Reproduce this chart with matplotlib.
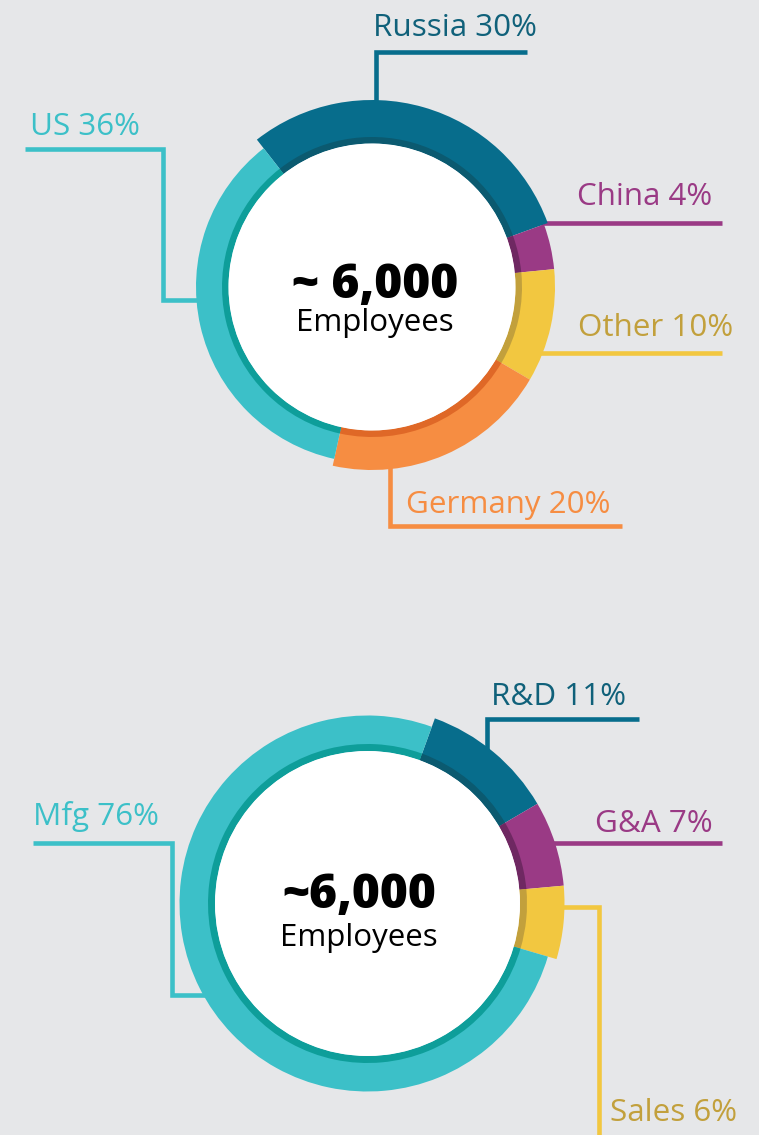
import matplotlib.pyplot as plt

W, H = 759, 1135

# headcount split by region and by function (percent)
region_names = ["Russia", "China", "Other", "Germany", "US"]
region_share = [30, 4, 10, 20, 36]
dept_names = ["R&D", "G&A", "Sales", "Mfg"]
dept_share = [11, 7, 6, 76]
total_label = "6,000"

BG = "#e6e7e9"
TEAL, TEAL_D = "#3cc0c8", "#0e9e9a"
BLUE, BLUE_D = "#076d8c", "#0b5a70"
PLUM, PLUM_D = "#9a3a85", "#6f2862"
GOLD, GOLD_D = "#f2c740", "#c2a03c"
ORNG, ORNG_D = "#f68d42", "#df6827"

plt.rcParams['font.family'] = ['Open Sans', 'DejaVu Sans']

fig = plt.figure(figsize=(W / 100, H / 100), dpi=100, facecolor=BG)
ax = fig.add_axes([0, 0, 1, 1])
ax.set_facecolor(BG)


def py(y):
    # work in top-down pixel rows
    return H - y


def ring(cx, cy, shares, colors, darks, r_white, band, r_outer, start):
    c = (cx, py(cy))
    wedges, _ = ax.pie(shares, colors=colors, startangle=start,
                       counterclock=False, center=c, radius=max(r_outer),
                       wedgeprops=dict(width=10, linewidth=0), frame=True)
    for w, r in zip(wedges, r_outer):
        w.set_radius(r)
        w.set_width(r - r_white)
        w.set_zorder(3)
    inner, _ = ax.pie(shares, colors=darks, startangle=start,
                      counterclock=False, center=c, radius=r_white + band,
                      wedgeprops=dict(width=band, linewidth=0), frame=True)
    for w in inner:
        w.set_zorder(4)
    ax.add_patch(plt.Circle(c, r_white, color="white", zorder=5, lw=0))


def leader(xs, ys, color):
    ax.plot(xs, [py(y) for y in ys], color=color, lw=3.3,
            solid_joinstyle="miter", solid_capstyle="butt", zorder=2)


def label(x, y, s, color):
    ax.text(x, py(y), s, color=color, fontsize=22.6, ha="left",
            va="baseline", zorder=6)


# ---- region donut ----
ring(372, 287, region_share,
     [BLUE, PLUM, GOLD, ORNG, TEAL], [BLUE_D, PLUM_D, GOLD_D, ORNG_D, TEAL_D],
     143.5, 6.5, [187, 183, 183, 183, 176], 128)

leader([376, 376, 527], [110, 52, 52], BLUE)
leader([200, 163, 163, 25], [300, 300, 149, 149], TEAL)
leader([540, 722], [223, 223], PLUM)
leader([540, 722], [353, 353], GOLD)
leader([390, 390, 622], [460, 526, 526], ORNG)

label(373, 36, f"{region_names[0]} {region_share[0]}%", "#10617a")
label(30, 135, f"{region_names[4]} {region_share[4]}%", TEAL)
label(577, 205, f"{region_names[1]} {region_share[1]}%", PLUM)
label(578, 336, f"{region_names[2]} {region_share[2]}%", GOLD_D)
label(406, 513, f"{region_names[3]} {region_share[3]}%", ORNG)

ax.text(375, py(298), "~ " + total_label, fontsize=34.5, fontweight=800,
        ha="center", va="baseline", color="black", zorder=6)
ax.text(375, py(331), "Employees", fontsize=22.5, ha="center",
        va="baseline", color="black", zorder=6)

# ---- function donut ----
ring(367.5, 903.5, dept_share,
     [BLUE, PLUM, GOLD, TEAL], [BLUE_D, PLUM_D, GOLD_D, TEAL_D],
     152.5, 7, [197, 197, 197, 188], 70)

leader([487, 487, 639], [750, 719, 719], BLUE)
leader([550, 722], [843, 843], PLUM)
leader([555, 599, 599], [907, 907, 1140], GOLD)
leader([210, 172, 172, 33], [995, 995, 843, 843], TEAL)

label(491, 705, f"{dept_names[0]} {dept_share[0]}%", "#10617a")
label(595, 832, f"{dept_names[1]} {dept_share[1]}%", PLUM)
label(610, 1121, f"{dept_names[2]} {dept_share[2]}%", GOLD_D)
label(33, 825, f"{dept_names[3]} {dept_share[3]}%", TEAL)

ax.text(359, py(908), "~" + total_label, fontsize=34.5, fontweight=800,
        ha="center", va="baseline", color="black", zorder=6)
ax.text(359, py(946), "Employees", fontsize=22.5, ha="center",
        va="baseline", color="black", zorder=6)

ax.set_xlim(0, W)
ax.set_ylim(0, H)
ax.set_aspect("equal")
ax.axis("off")

fig.savefig("out.png", dpi=100, facecolor=BG)
